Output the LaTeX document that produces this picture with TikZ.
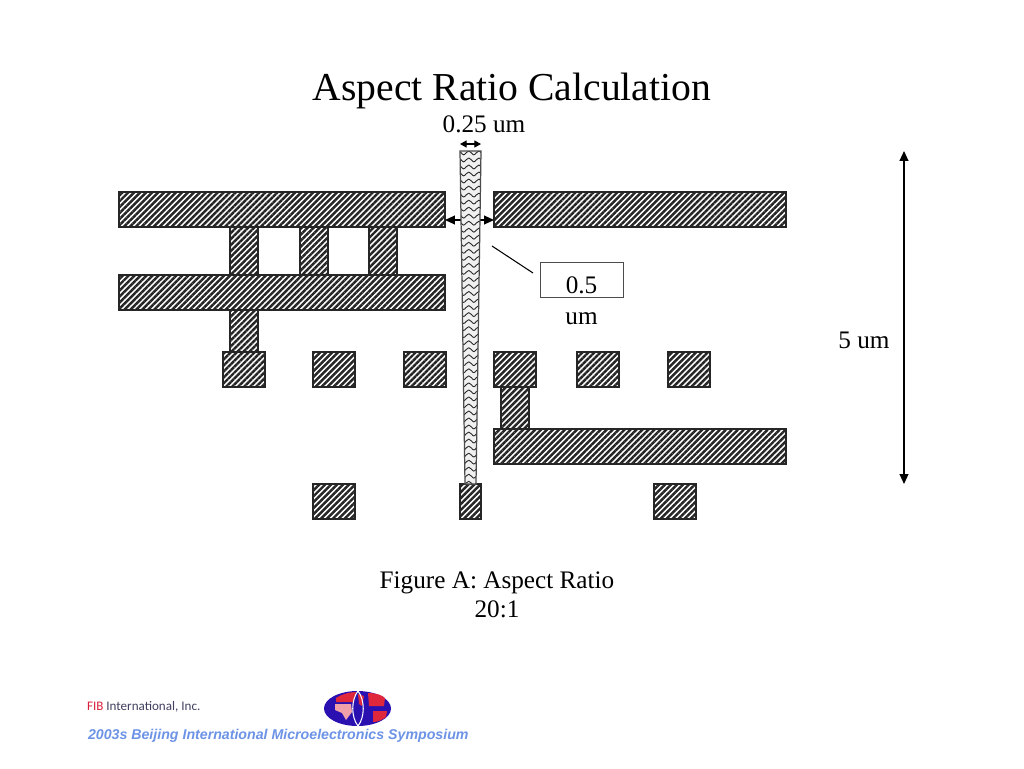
\documentclass[tikz,border=0pt]{standalone}
\usepackage{fontspec}
\setmainfont{Liberation Serif}
\newfontfamily\logofont{Carlito}
\newfontfamily\symfont{Liberation Sans}
\usepackage{xcolor}
\usepackage{tikz}
\usetikzlibrary{arrows.meta,patterns,patterns.meta}

\definecolor{fibred}{HTML}{D8203C}
\definecolor{fibgrey}{HTML}{404060}
\definecolor{symblue}{HTML}{6C93E6}
\definecolor{logoblue}{HTML}{2A10B0}
\definecolor{logored}{HTML}{E0283C}
\definecolor{logopink}{HTML}{F0A0A8}

\pgfdeclarepatternformonly{taperwave}{\pgfqpoint{0pt}{-1pt}}{\pgfqpoint{5.8pt}{5pt}}{\pgfqpoint{5.8pt}{4pt}}{
  \pgfsetlinewidth{0.5pt}
  \pgfpathmoveto{\pgfqpoint{0pt}{3.2pt}}
  \pgfpathcurveto{\pgfqpoint{1.3pt}{3.2pt}}{\pgfqpoint{1.9pt}{1pt}}{\pgfqpoint{2.9pt}{1pt}}
  \pgfpathcurveto{\pgfqpoint{3.9pt}{1pt}}{\pgfqpoint{4.5pt}{3.2pt}}{\pgfqpoint{5.8pt}{3.2pt}}
  \pgfusepath{stroke}
}

% box given by left, top, width, height in pixels
\newcommand{\metalbox}[5]{
  \node [metal,minimum width=#4*0.02cm,minimum height=#5*0.02cm] (#1) at (#2+#4/2,-#3-#5/2) {};
}

\begin{document}
\begin{tikzpicture}[x=0.02cm,y=0.02cm]
	\tikzstyle{every node}+=[inner sep=0pt,outer sep=0pt]
	\tikzstyle{metal}=[draw=black!85,line width=0.6pt,rectangle,pattern={Lines[angle=45,distance=2.4pt,line width=1.4pt]},pattern color=black!85]
	\tikzstyle{bodytext}=[font=\fontsize{14.35}{17}\selectfont]
	\tikzstyle{dimline}=[black,line width=0.7pt,{Triangle[length=5.6pt,width=5pt]}-{Triangle[length=5.6pt,width=5pt]}]
	\tikzstyle{smalldim}=[black,line width=0.7pt,{Triangle[length=3.8pt,width=4pt]}-{Triangle[length=3.8pt,width=4pt]}]
	\useasboundingbox [fill=white] (0,0) rectangle (1024,-768);
	% title
	\node [font=\fontsize{22.55}{26}\selectfont] (title) at (512,-91) {Aspect Ratio Calculation};
	% metal lines
	\metalbox{topleft}{119}{192}{326}{35}
	\metalbox{topright}{494}{192}{292}{35}
	\metalbox{midleft}{119}{275}{326}{35}
	\metalbox{lowright}{494}{429}{292}{35}
	% vias
	\metalbox{viaa}{230}{227}{28}{48}
	\metalbox{viab}{300}{227}{28}{48}
	\metalbox{viac}{369}{227}{28}{48}
	\metalbox{viad}{230}{310}{28}{42}
	\metalbox{viae}{501}{387}{28}{42}
	% pads
	\metalbox{pada}{223}{352}{42}{35}
	\metalbox{padb}{313}{352}{42}{35}
	\metalbox{padc}{404}{352}{42}{35}
	\metalbox{padd}{494}{352}{42}{35}
	\metalbox{pade}{577}{352}{42}{35}
	\metalbox{padf}{668}{352}{42}{35}
	\metalbox{padg}{313}{484}{42}{35}
	\metalbox{padh}{460}{484}{21}{35}
	\metalbox{padi}{654}{484}{42}{35}
	% dimensions
	\coordinate (holea) at (460,-144);
	\coordinate (holeb) at (481,-144);
	\draw [smalldim] (holea) -- (holeb);
	\coordinate (gapa) at (445,-220);
	\coordinate (gapb) at (494,-220);
	\draw [dimline] (gapa) -- (gapb);
	\coordinate (deptha) at (904,-151);
	\coordinate (depthb) at (904,-484);
	\draw [dimline] (deptha) -- (depthb);
	% tapered hole
	\draw [black!70,line width=0.7pt,preaction={fill=black!6},pattern=taperwave,pattern color=black!85] (460,-151) -- (481,-151) -- (476,-484) -- (465,-484) -- cycle;
	\node [bodytext] (holelabel) at (484,-124) {0.25 um};
	\node [bodytext] (depthlabel) at (864,-340) {5 um};
	% callout
	\node [draw=black!70,line width=0.5pt,minimum width=83*0.02cm,minimum height=35*0.02cm] (callout) at (581.5,-279.5) {};
	\node [bodytext] (calloutval) at (581.5,-285) {0.5};
	\node [bodytext] (calloutum) at (581.5,-319) {um};
	\coordinate (leada) at (492,-246);
	\coordinate (leadb) at (533,-273);
	\draw [black,line width=0.6pt] (leada) -- (leadb);
	% caption
	\node [bodytext] (capa) at (497,-583) {Figure A: Aspect Ratio};
	\node [bodytext] (capb) at (497,-609) {20:1};
	% footer
	\node [anchor=west,font=\logofont\fontsize{7.45}{9}\selectfont,text=fibgrey] (fib) at (87,-707) {\textcolor{fibred}{FIB} International, Inc.};
	\node [anchor=west,font=\symfont\fontsize{8.07}{10}\selectfont\bfseries\itshape,text=symblue] (symposium) at (88,-736) {2003s Beijing International Microelectronics Symposium};
	% logo
	\fill [logoblue] (357.5,-708.5) ellipse (33.5 and 17.5);
	\fill [logored] (336,-698) .. controls (342,-694) and (350,-692) .. (356,-692) -- (353,-702) -- (336,-702) -- cycle;
	\fill [logopink] (335,-704) -- (351,-704) -- (352,-712) -- (346,-720) -- (342,-713) -- (335,-710) -- cycle;
	\fill [logored] (358,-694) -- (364,-696) -- (362,-706) -- (359,-704) -- cycle;
	\fill [logored] (368,-693) .. controls (376,-693) and (382,-695) .. (385,-698) -- (384,-706) -- (369,-706) -- cycle;
	\fill [logored] (373,-711) -- (387,-711) -- (386,-717) .. controls (382,-720) and (378,-722) .. (373,-722) -- cycle;
	\draw [white,line width=0.6pt] (358,-691) .. controls (351,-700) and (351,-717) .. (358,-726);
	\draw [white,line width=0.6pt] (358,-691) .. controls (365,-700) and (365,-717) .. (358,-726);
\end{tikzpicture}
\end{document}
